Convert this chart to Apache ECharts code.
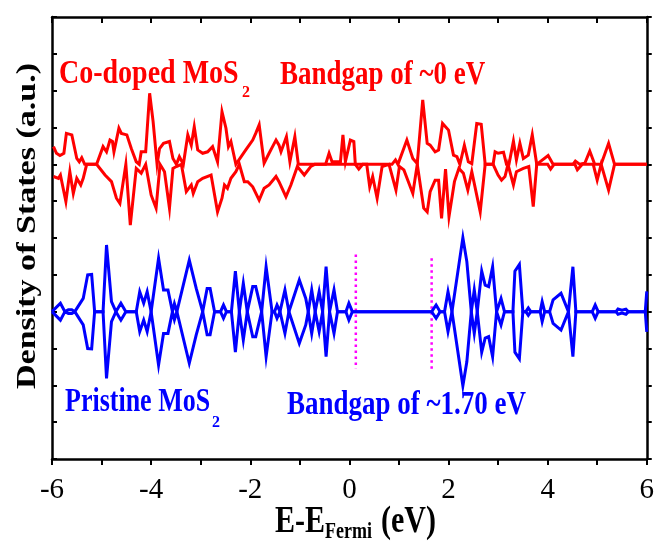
<!DOCTYPE html>
<html><head><meta charset="utf-8">
<script src="https://cdn.jsdelivr.net/npm/echarts@6/dist/echarts.min.js"></script>
<style>html,body{margin:0;padding:0;background:#fff}#c{width:657px;height:549px}</style>
</head><body><div id="c"></div>
<script>
// ---- data (energy in eV, DOS in arbitrary units) ----
const xTickValues = [-6, -4, -2, 0, 2, 4, 6];
const CO_BASE = 8;   // vertical offset of Co-doped curves (a.u.)
const PR_BASE = 4;   // vertical offset of pristine curves (a.u.)

const coUp = [[-5.97,0.48],[-5.91,0.30],[-5.84,0.24],[-5.76,0.30],[-5.71,0.84],[-5.60,0.80],[-5.57,0.80],[-5.50,0.16],[-5.45,0.07],[-5.40,0.18],[-5.34,0],[-5.10,0],[-4.97,0.48],[-4.90,0.34],[-4.83,0.66],[-4.78,0.62],[-4.75,0.34],[-4.65,0.98],[-4.60,0.84],[-4.49,0.80],[-4.40,0.43],[-4.30,0.07],[-4.24,0],[-4.20,0.34],[-4.11,0.34],[-4.03,1.93],[-3.96,1.16],[-3.88,0],[-3.83,0.43],[-3.75,0.57],[-3.63,0.62],[-3.56,0.16],[-3.49,0],[-3.43,0.21],[-3.35,0],[-3.26,0.80],[-3.19,0.52],[-3.13,1.02],[-3.06,0.39],[-2.96,0.30],[-2.86,0.34],[-2.76,0.48],[-2.66,0.07],[-2.57,1.43],[-2.49,0.98],[-2.44,0.48],[-2.39,0.62],[-2.29,0],[-2.09,0.39],[-1.95,0.66],[-1.89,0.84],[-1.82,1.07],[-1.72,0.03],[-1.62,0.30],[-1.55,0.48],[-1.48,0.66],[-1.42,0.52],[-1.38,0.34],[-1.27,0.75],[-1.20,0.07],[-1.10,0.75],[-1.03,0],[-0.48,0],[-0.41,0.30],[-0.35,0.07],[-0.18,0.07],[-0.13,0.80],[-0.08,0.07],[0.02,0.66],[0.09,0.62],[0.12,0],[0.86,0],[0.93,0.12],[0.98,0],[1.16,0.66],[1.28,0.16],[1.37,0.02],[1.48,1.75],[1.57,0.57],[1.63,0.52],[1.73,0.34],[1.80,0.39],[1.88,1.11],[2.00,0.93],[2.10,0.25],[2.17,0.21],[2.23,0],[2.32,0.52],[2.40,0.07],[2.47,0.02],[2.57,1.11],[2.66,1.09],[2.74,0],[2.90,0],[2.94,0.34],[3.00,0.30],[3.11,0.33],[3.17,0],[3.22,0],[3.31,0.63],[3.37,0.12],[3.44,0.57],[3.51,0.16],[3.61,0.25],[3.69,0.80],[3.78,0],[4.01,0.24],[4.11,0],[4.51,0],[4.56,0.09],[4.65,0],[4.75,0.03],[4.85,0.36],[4.95,0],[5.08,0],[5.23,0.57],[5.35,0],[6.0,0]];

const coDown = [[-5.97,-0.33],[-5.87,-0.38],[-5.83,-0.29],[-5.72,-1.01],[-5.64,-0.20],[-5.57,-0.79],[-5.50,-0.38],[-5.42,-0.56],[-5.37,-0.38],[-5.30,0],[-5.10,0],[-4.93,-0.29],[-4.80,-0.47],[-4.70,-0.92],[-4.63,-1.06],[-4.51,0],[-4.42,-1.65],[-4.30,-0.11],[-4.20,-0.24],[-4.11,0],[-4.00,-0.83],[-3.90,-1.19],[-3.82,0],[-3.73,-0.20],[-3.63,-1.19],[-3.56,-0.11],[-3.49,-0.06],[-3.39,0],[-3.29,-0.74],[-3.19,-0.56],[-3.15,-0.79],[-3.06,-0.47],[-2.96,-0.38],[-2.79,-0.29],[-2.66,-1.29],[-2.57,-0.92],[-2.52,-0.56],[-2.46,-0.65],[-2.39,-0.38],[-2.29,-0.20],[-2.22,0],[-2.12,-0.47],[-2.05,-0.47],[-1.95,-0.61],[-1.82,-0.97],[-1.72,-0.65],[-1.62,-0.56],[-1.48,-0.33],[-1.42,-0.47],[-1.28,-0.88],[-1.18,-0.56],[-1.05,-0.06],[-0.91,-0.29],[-0.78,-0.06],[-0.70,0],[0.12,0],[0.19,-0.13],[0.27,0],[0.35,0],[0.41,-0.61],[0.47,-0.33],[0.56,-0.92],[0.66,-0.06],[0.80,0],[0.94,-0.70],[1.01,-0.06],[1.10,-0.15],[1.28,-0.79],[1.37,0],[1.50,-1.19],[1.57,-1.29],[1.63,-0.74],[1.73,-0.43],[1.80,-0.43],[1.86,-1.47],[1.94,-0.13],[2.01,-1.42],[2.12,-0.47],[2.21,-0.11],[2.30,-0.24],[2.39,-0.70],[2.47,-0.20],[2.64,-1.29],[2.74,0],[2.90,0],[3.00,-0.29],[3.07,-0.43],[3.14,-0.33],[3.20,0],[3.31,-0.56],[3.37,-0.20],[3.51,-0.11],[3.62,-0.06],[3.71,-1.15],[3.78,0],[4.00,0],[4.06,-0.13],[4.13,0],[4.55,0],[4.60,-0.15],[4.70,0],[4.92,0],[5.00,-0.43],[5.08,0],[5.23,-0.70],[5.35,0],[6.0,0]];

// pristine MoS2 is non-magnetic: spin-down is the mirror of spin-up
const prDos = [[-6.0,0],[-5.97,0],[-5.83,0.23],[-5.74,0],[-5.67,0.05],[-5.60,0.05],[-5.54,0],[-5.37,0.36],[-5.28,1.00],[-5.20,1.01],[-5.14,0],[-4.97,0],[-4.90,1.81],[-4.80,0.27],[-4.71,0],[-4.61,0.23],[-4.51,0],[-4.30,0],[-4.23,0.54],[-4.15,0.23],[-4.08,0.54],[-4.00,0],[-3.85,1.45],[-3.75,0.59],[-3.66,0.59],[-3.57,0],[-3.53,0.22],[-3.48,0],[-3.23,1.40],[-3.09,0.63],[-2.96,0],[-2.87,0.63],[-2.81,0.63],[-2.72,0],[-2.60,0],[-2.54,0.18],[-2.48,0],[-2.38,0],[-2.30,1.10],[-2.22,0],[-2.14,0.77],[-2.06,0],[-1.95,0.68],[-1.89,0.68],[-1.77,0],[-1.68,1.22],[-1.56,0],[-1.51,0],[-1.46,0.18],[-1.40,0],[-1.30,0.59],[-1.22,0],[-1.01,0.86],[-0.88,0.36],[-0.83,0],[-0.76,0.59],[-0.69,0],[-0.61,0.54],[-0.54,0],[-0.47,1.22],[-0.40,0],[-0.31,0.59],[-0.24,0],[-0.07,0],[-0.01,0.23],[0.06,0],[1.66,0],[1.75,0.18],[1.83,0],[1.92,0],[1.99,0.54],[2.07,0],[2.29,2.01],[2.37,1.36],[2.46,0],[2.52,0.59],[2.58,0],[2.67,1.10],[2.74,0.72],[2.81,0.68],[2.89,1.22],[2.97,0],[3.06,0.36],[3.13,0],[3.30,0],[3.34,1.10],[3.43,1.28],[3.50,0],[3.56,0],[3.61,0.10],[3.66,0],[3.85,0],[3.89,0.27],[3.94,0],[4.04,0],[4.11,0.32],[4.27,0.50],[4.42,0],[4.51,1.22],[4.57,0],[4.90,0],[4.96,0.18],[5.02,0],[5.38,0],[5.42,0.07],[5.50,0.04],[5.58,0.07],[5.63,0],[5.97,0],[6.0,0.55]];

// band-edge markers: [energy, top, bottom] in axis units
const gapMarkers = [[0.13, 5.55, 2.45], [1.66, 5.45, 2.37]];

// ---- chart ----
const SERIF = '"Liberation Serif","Times New Roman",serif';
const RED = '#ff0000', BLUE = '#0000ff', MAG = '#ff00ff';
const shift = (arr, base, sign) => arr.map(([e, v]) => [e, base + sign * v]);
const lineS = (data, color, w, z, type) => ({
  type: 'line', data, symbol: 'none', z,
  lineStyle: { color, width: w, type: type || 'solid', cap: 'butt', join: 'miter' },
  itemStyle: { color }, animation: false, silent: true
});

const axisLine = { show: true, onZero: false, lineStyle: { color: '#000', width: 2.5 } };
const tickStyle = { color: '#000', width: 2 };

const series = [
  lineS(shift(coUp, CO_BASE, 1), RED, 3, 3),
  lineS(shift(coDown, CO_BASE, 1), RED, 3, 3),
  ...gapMarkers.map(([e, t, b]) => lineS([[e, t], [e, b]], MAG, 2.5, 2, [2.5, 3.5])),
  lineS(shift(prDos, PR_BASE, 1), BLUE, 3, 4),
  lineS(shift(prDos, PR_BASE, -1), BLUE, 3, 4)
];

const chart = echarts.init(document.getElementById('c'), null, { renderer: 'canvas' });
chart.setOption({
  animation: false,
  backgroundColor: '#fff',
  grid: { left: 52, right: 9, top: 17, bottom: 90 },
  xAxis: [
    { type: 'value', min: xTickValues[0], max: xTickValues[xTickValues.length - 1], interval: 2,
      axisLine, splitLine: { show: false },
      axisTick: { inside: false, length: 6, lineStyle: tickStyle },
      minorTick: { show: true, splitNumber: 2, length: 6, lineStyle: tickStyle },
      axisLabel: { fontFamily: SERIF, fontSize: 29, color: '#000', margin: 17, formatter: v => String(v) } },
    { type: 'value', position: 'top', min: -6, max: 6, interval: 2,
      axisLine, splitLine: { show: false },
      axisTick: { inside: true, length: 6, lineStyle: tickStyle },
      minorTick: { show: true, splitNumber: 2, length: 6, lineStyle: tickStyle },
      axisLabel: { show: false } }
  ],
  yAxis: [
    { type: 'value', min: 0, max: 12, interval: 1, axisLine, splitLine: { show: false },
      axisTick: { inside: true, length: 5, lineStyle: tickStyle }, axisLabel: { show: false } },
    { type: 'value', position: 'right', min: 0, max: 12, interval: 1, axisLine, splitLine: { show: false },
      axisTick: { inside: false, length: 5, lineStyle: tickStyle }, axisLabel: { show: false } }
  ],
  series,
  graphic: [
    { type: 'text', x: 28, y: 226, rotation: Math.PI / 2, scaleX: 1.26,
      style: { text: 'Density of States (a.u.)', font: 'bold 27px ' + SERIF, fill: '#000', align: 'center', verticalAlign: 'middle' } },
    { type: 'text', x: 275, y: 522, scaleY: 1.25,
      style: { text: 'E-E', font: 'bold 30px ' + SERIF, fill: '#000', align: 'left', verticalAlign: 'middle' } },
    { type: 'text', x: 325, y: 532, scaleY: 1.3,
      style: { text: 'Fermi', font: 'bold 18px ' + SERIF, fill: '#000', align: 'left', verticalAlign: 'middle' } },
    { type: 'text', x: 381, y: 522, scaleY: 1.25,
      style: { text: '(eV)', font: 'bold 30px ' + SERIF, fill: '#000', align: 'left', verticalAlign: 'middle' } },
    { type: 'text', x: 59, y: 74, scaleY: 1.22,
      style: { text: 'Co-doped MoS', font: 'bold 28px ' + SERIF, fill: RED, align: 'left', verticalAlign: 'middle' } },
    { type: 'text', x: 242, y: 93,
      style: { text: '2', font: 'bold 16px ' + SERIF, fill: RED, align: 'left', verticalAlign: 'middle' } },
    { type: 'text', x: 280, y: 75, scaleY: 1.25,
      style: { text: 'Bandgap of ~0 eV', font: 'bold 27px ' + SERIF, fill: RED, align: 'left', verticalAlign: 'middle' } },
    { type: 'text', x: 65, y: 402, scaleY: 1.3,
      style: { text: 'Pristine MoS', font: 'bold 26px ' + SERIF, fill: BLUE, align: 'left', verticalAlign: 'middle' } },
    { type: 'text', x: 212, y: 423,
      style: { text: '2', font: 'bold 16px ' + SERIF, fill: BLUE, align: 'left', verticalAlign: 'middle' } },
    { type: 'text', x: 287, y: 405, scaleY: 1.25,
      style: { text: 'Bandgap of ~1.70 eV', font: 'bold 27px ' + SERIF, fill: BLUE, align: 'left', verticalAlign: 'middle' } }
  ]
});
</script>
</body></html>
